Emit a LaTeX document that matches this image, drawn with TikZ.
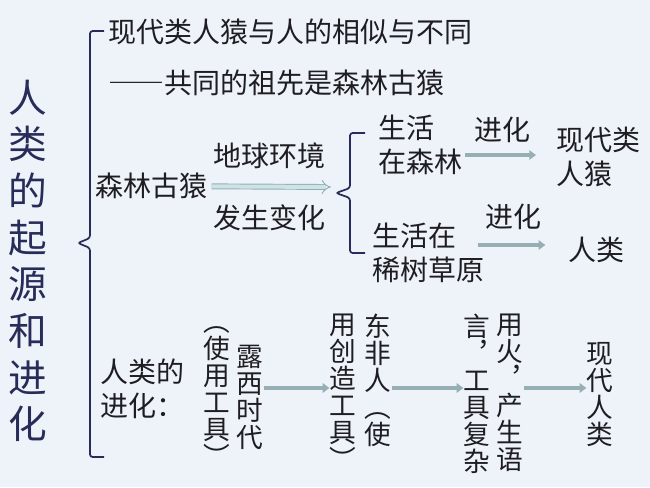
\documentclass[tikz,border=0pt]{standalone}
\usepackage{fontspec}
\setmainfont{Noto Sans CJK SC}[Script=CJK, Language=Chinese Simplified]
\usetikzlibrary{arrows.meta, positioning}
\definecolor{PaleSky}{RGB}{238,243,250}
\definecolor{DeepNavy}{RGB}{40,44,88}
\definecolor{InkBlack}{RGB}{30,30,34}
\definecolor{SlateTeal}{RGB}{150,175,178}
\definecolor{MintFill}{RGB}{205,228,228}

\begin{document}
\begin{tikzpicture}[
    x=0.75pt, y=-0.75pt,
    txt/.style={inner sep=0pt, anchor=west, align=left, text=InkBlack, font=\fontsize{21}{25.5}\selectfont},
    col/.style={inner sep=0pt, align=center, text=InkBlack, font=\fontsize{20}{20.25}\selectfont},
    lbl/.style={inner sep=0pt, text=InkBlack, font=\fontsize{21}{25.5}\selectfont},
    brace/.style={draw=DeepNavy, line width=1.3pt, rounded corners=2pt},
    arrow/.style={-{Triangle[length=5pt,width=7pt]}, line width=2.8pt, SlateTeal},
    dblarrow/.style={-{Implies}, double=MintFill, double distance=3pt, line width=0.7pt, draw=SlateTeal}
  ]
  \fill[PaleSky] (0,0) rectangle (650,487);
  \useasboundingbox (0,0) rectangle (650,487);

  % title
  \node[inner sep=0pt, align=center, text=DeepNavy, font=\fontsize{29}{35}\selectfont] (title) at (28,261) {人\\类\\的\\起\\源\\和\\进\\化};
  \draw[brace] (104,31) -- (90,31) -- (90,238) -- (78,243) -- (90,248) -- (90,457) -- (104,457);

  % origin
  \node[txt] (same) at (108,32) {现代类人猿与人的相似与不同};
  \node[txt] (ancestor) at (108,83) {——共同的祖先是森林古猿};
  \node[txt] (forestape) at (95,186) {森林古猿};
  \coordinate (fork) at (331,187);
  \draw[dblarrow, shorten <=3pt] (forestape) -- node[lbl, above=13pt] (earth) {地球环境} node[lbl, below=13pt] (change) {发生变化} (fork);
  \draw[brace] (365,133) -- (350,133) -- (350,188) -- (336,193) -- (350,198) -- (350,253) -- (365,253);

  \node[txt] (inforest) at (378,145) {生活\\在森林};
  \node[txt] (ape) at (556,157) {现代类\\人猿};
  \coordinate (r1) at (0,155);
  \draw[arrow, shorten <=2pt, shorten >=15pt] (inforest.east |- r1) -- node[lbl, pos=0.43, above=8pt] (evo1) {进化} (ape.west |- r1);

  \node[txt] (insavanna) at (372,253) {生活在\\稀树草原};
  \node[txt] (human) at (568,250) {人类};
  \coordinate (r2) at (0,245);
  \draw[arrow, shorten <=-5pt, shorten >=17pt] (insavanna.east |- r2) -- node[lbl, pos=0.35, above=10pt] (evo2) {进化} (human.west |- r2);

  % evolution
  \node[txt] (evolution) at (100,389) {人类的\\进化：};
  \coordinate (row) at (0,388);
  \node[col] (lucyL) at (217,397) {︵\\使\\用\\工\\具\\︶};
  \node[col] (lucyR) at (250,397) {露\\西\\时\\代};
  \node[col] (eastL) at (343,392) {用\\创\\造\\工\\具\\︶};
  \node[col] (eastR) at (378,380) {东\\非\\人\\︵\\使};
  \node[col] (fireL) at (477,394) {言\\︐\\工\\具\\复\\杂};
  \node[col] (fireR) at (510,393) {用\\火\\︐\\产\\生\\语};
  \node[col] (modern) at (600,395) {现\\代\\人\\类};
  \draw[arrow] (lucyR.east |- row) -- (eastL.west |- row);
  \draw[arrow] (eastR.east |- row) -- (fireL.west |- row);
  \draw[arrow] (fireR.east |- row) -- (modern.west |- row);
\end{tikzpicture}
\end{document}
